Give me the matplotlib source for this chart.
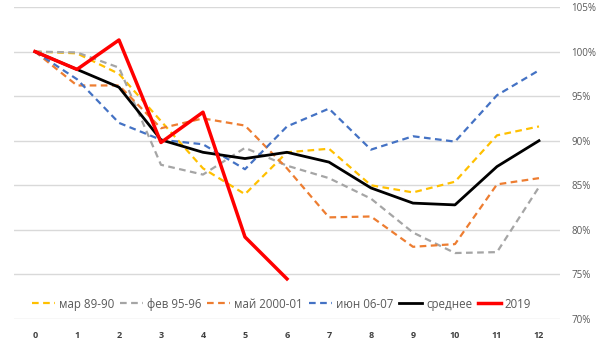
import numpy as np
from matplotlib import pyplot as plt
from matplotlib.ticker import FuncFormatter

plt.rcParams['font.family'] = ['Open Sans', 'DejaVu Sans']

# months since start
months = list(range(13))

# index level, % of start
mar_89_90 = [100, 99.8, 97.5, 92.2, 86.9, 84.0, 88.7, 89.1, 85.0, 84.2, 85.4, 90.6, 91.6]
feb_95_96 = [100, 99.9, 98.2, 87.3, 86.2, 89.2, 87.2, 85.8, 83.5, 79.7, 77.4, 77.5, 84.8]
may_2000_01 = [100, 96.2, 96.2, 91.4, 92.5, 91.7, 86.9, 81.4, 81.5, 78.1, 78.4, 85.1, 85.8]
jun_06_07 = [100, 96.9, 92.0, 90.1, 89.6, 86.8, 91.6, 93.6, 89.0, 90.5, 89.9, 95.1, 97.9]
average = [100, 98.0, 96.0, 90.1, 88.7, 88.0, 88.7, 87.6, 84.7, 83.0, 82.8, 87.1, 90.0]
y2019 = [100, 98.0, 101.3, 89.8, 93.2, 79.2, 74.5]

series = [
    ('мар 89-90', mar_89_90, '#FFC000', '--', 1.6),
    ('фев 95-96', feb_95_96, '#A5A5A5', '--', 1.6),
    ('май 2000-01', may_2000_01, '#ED7D31', '--', 1.6),
    ('июн 06-07', jun_06_07, '#4472C4', '--', 1.6),
    ('среднее', average, 'black', '-', 2.0),
    ('2019', y2019, '#FF0000', '-', 2.5),
]

fig = plt.figure(figsize=(6, 3.42), dpi=100)
ax = fig.add_axes([0.0233, 0.0673, 0.91, 0.9122])

for name, vals, col, ls, lw in series:
    ax.plot(months[:len(vals)], vals, color=col, linestyle=ls, linewidth=lw,
            label=name, dashes=(3, 2) if ls == '--' else (None, None))

ax.set_xlim(-0.5, 12.5)
ax.set_ylim(70, 105)
ax.set_xticks(months)
ax.set_yticks(np.arange(70, 106, 5))
ax.yaxis.set_major_formatter(FuncFormatter(lambda v, p: '%d%%' % v))
ax.yaxis.tick_right()
ax.grid(axis='y', color='#D9D9D9', linewidth=1)
ax.set_axisbelow(True)
for s in ax.spines.values():
    s.set_visible(False)
ax.tick_params(length=0)
ax.tick_params(axis='x', pad=9, labelsize=6.5, labelcolor='#404040')
ax.tick_params(axis='y', pad=8, labelsize=7, labelcolor='#595959')
for lab in ax.get_xticklabels():
    lab.set_fontweight('bold')

leg = ax.legend(loc='center', bbox_to_anchor=(0.49, 0.048), ncol=6, frameon=False,
                fontsize=8.3, handlelength=2.0, handletextpad=0.35, columnspacing=0.5,
                borderaxespad=0)
for t in leg.get_texts():
    t.set_color('#595959')

fig.savefig('out.png', dpi=100)
